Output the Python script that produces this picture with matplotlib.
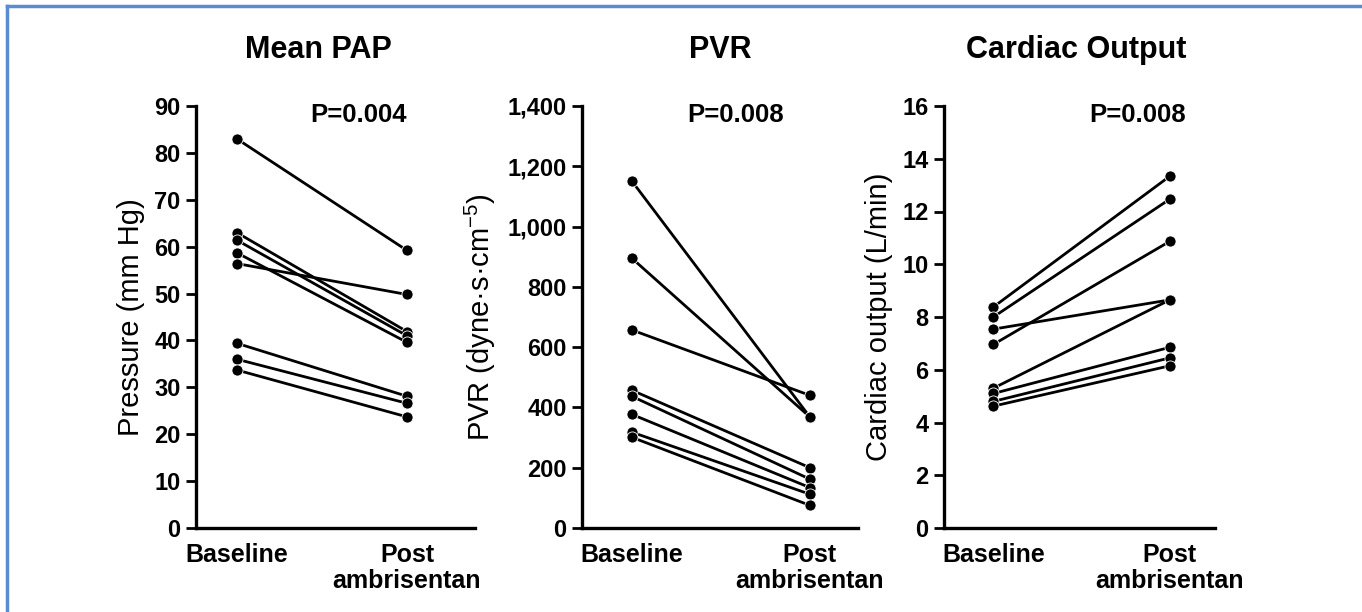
import numpy as np
import matplotlib
matplotlib.use("Agg")
import matplotlib.pyplot as plt
from matplotlib.lines import Line2D

plt.rcParams['font.family'] = ['Liberation Sans', 'DejaVu Sans']
plt.rcParams['mathtext.default'] = 'regular'

# x categories
groups = ['Baseline', 'Post\nambrisentan']

# Mean PAP (mm Hg), one pair per patient
pap_base = [83.0, 63.0, 61.4, 58.7, 56.4, 39.4, 36.0, 33.7]
pap_post = [59.2, 41.9, 41.0, 39.6, 49.8, 28.1, 26.6, 23.7]

# PVR (dyne.s.cm-5)
pvr_base = [1151, 895, 657, 457, 437, 377, 318, 301]
pvr_post = [368, 368, 440, 200, 162, 134, 112, 75]

# Cardiac output (L/min)
co_base = [8.38, 8.00, 6.96, 7.54, 5.30, 5.10, 4.80, 4.62]
co_post = [13.34, 12.47, 10.87, 8.65, 8.65, 6.85, 6.45, 6.15]

titles = ['Mean PAP', 'PVR', 'Cardiac Output']
ylabels = ['Pressure (mm Hg)', 'PVR (dyne\u00b7s\u00b7cm$^{-5}$)', 'Cardiac output (L/min)']
pvals = ['P=0.004', 'P=0.008', 'P=0.008']
yticks = [np.arange(0, 91, 10), np.arange(0, 1401, 200), np.arange(0, 17, 2)]
ytick_labels = [[str(v) for v in yticks[0]],
                ['{:,}'.format(v) for v in yticks[1]],
                [str(v) for v in yticks[2]]]

fig = plt.figure(figsize=(13.62, 6.12), dpi=100)
W, H = 1362.0, 612.0

# axes boxes in pixels: left, right
boxes = [(196, 475), (582, 858), (944, 1215)]
xlims = [(-0.24, 1.40), (-0.28, 1.27), (-0.28, 1.256)]
title_x = [318, 720, 1076]
pval_x = [359, 736, 1138]
data = [(pap_base, pap_post), (pvr_base, pvr_post), (co_base, co_post)]

top, bot = 106, 528
for i in range(3):
    l, r = boxes[i]
    ax = fig.add_axes([l / W, 1 - bot / H, (r - l) / W, (bot - top) / H])
    base, post = data[i]
    for b, p in zip(base, post):
        ax.plot([0, 1], [b, p], color='black', lw=2.0, marker='o', ms=8,
                mfc='black', mec='white', mew=0.6, clip_on=False, zorder=3)
    ax.set_xlim(*xlims[i])
    ax.set_ylim(yticks[i][0], yticks[i][-1])
    ax.set_yticks(yticks[i])
    ax.set_yticklabels(ytick_labels[i], fontsize=17, fontweight='bold')
    ax.set_xticks([0, 1])
    ax.set_xticklabels(groups, fontsize=18, fontweight='bold', linespacing=1.1)
    ax.tick_params(axis='x', length=0, pad=11)
    ax.tick_params(axis='y', length=7, width=2, pad=4)
    for s in ['top', 'right']:
        ax.spines[s].set_visible(False)
    for s in ['left', 'bottom']:
        ax.spines[s].set_linewidth(2.4)
    ax.set_ylabel(ylabels[i], fontsize=21, labelpad=7)
    fig.text(title_x[i] / W, 1 - 50 / H, titles[i], fontsize=22, fontweight='bold',
             ha='center', va='center')
    fig.text(pval_x[i] / W, 1 - 115 / H, pvals[i], fontsize=18.5, fontweight='bold',
             ha='center', va='center')

# blue frame on top and left edges
frame_col = '#5b8bd0'
fig.add_artist(Line2D([7 / W, 7 / W], [0, 1 - 6 / H], color=frame_col, lw=2.5))
fig.add_artist(Line2D([7 / W, 1], [1 - 6 / H, 1 - 6 / H], color=frame_col, lw=2.5))

fig.savefig('out.png', dpi=100)
